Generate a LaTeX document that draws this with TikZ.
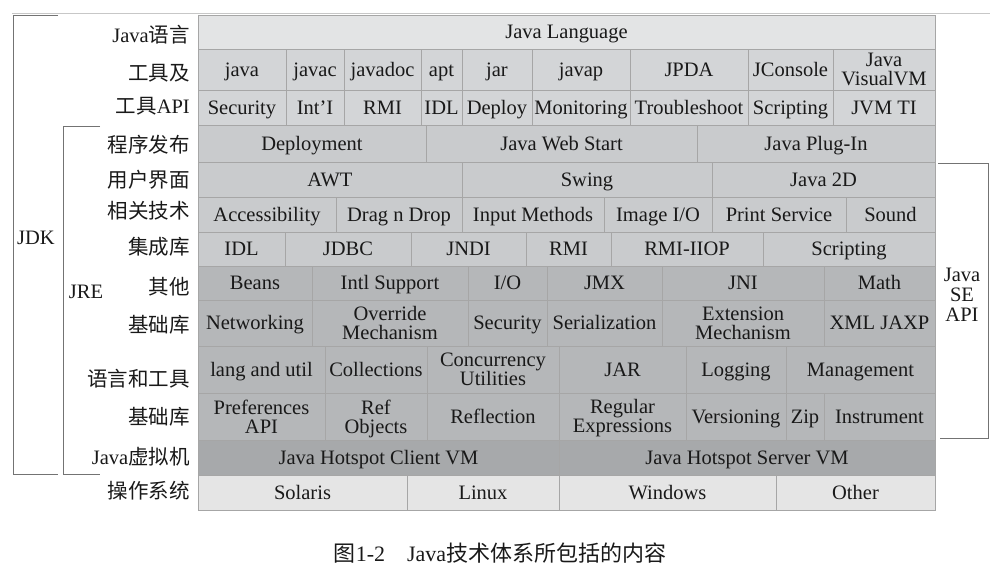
\documentclass[tikz,border=0pt]{standalone}
\usepackage{fontspec}
\setmainfont{Liberation Serif}
\newfontfamily\cjk{Noto Sans CJK SC}
\definecolor{cLang}{HTML}{E3E4E5}
\definecolor{cTool}{HTML}{D3D5D7}
\definecolor{cJre}{HTML}{C9CBCD}
\definecolor{cBase}{HTML}{B5B7B9}
\definecolor{cVm}{HTML}{A7A9AB}
\definecolor{cOs}{HTML}{E5E5E5}
\newcommand{\capstrut}{\rule[-0.4pt]{0pt}{14.4pt}}
\tikzset{
  cell/.style={draw=black!35,line width=0.7pt,anchor=north west,inner sep=0pt,outer sep=0pt,
    align=center,text=black!90,font=\fontsize{20.5}{19}\selectfont,
    execute at begin node=\capstrut,text depth=0.4pt},
  lbl/.style={anchor=east,inner sep=0pt,text=black!90,font=\fontsize{20.5}{20}\selectfont},
  side/.style={inner sep=0pt,align=center,text=black!90,font=\fontsize{20.5}{20}\selectfont},
  brk/.style={draw=black!55,line width=0.8pt},
  lang/.style={fill=cLang},
  tool/.style={fill=cTool},
  jre/.style={fill=cJre},
  base/.style={fill=cBase},
  vm/.style={fill=cVm},
  os/.style={fill=cOs}
}
% style, name, x1, x2, y1, y2, text
\newcommand{\blk}[7]{\node[cell,#1,minimum width=#4pt-#3pt,minimum height=#6pt-#5pt] (#2) at (#3,#5) {#7};}
\begin{document}
\begin{tikzpicture}[x=1pt,y=-1pt]
  \useasboundingbox (0,0) rectangle (997,575);
  \draw[draw=black!22,line width=0.6pt] (12,13) -- (990,13);
  \blk{lang}{lng}{198}{935}{15}{49}{Java Language}
  \blk{tool}{java}{198}{286}{49}{90}{java}
  \blk{tool}{javac}{286}{344}{49}{90}{javac}
  \blk{tool}{javadoc}{344}{421}{49}{90}{javadoc}
  \blk{tool}{apt}{421}{462}{49}{90}{apt}
  \blk{tool}{jar}{462}{532}{49}{90}{jar}
  \blk{tool}{javap}{532}{630}{49}{90}{javap}
  \blk{tool}{jpda}{630}{748}{49}{90}{JPDA}
  \blk{tool}{jcon}{748}{833}{49}{90}{JConsole}
  \blk{tool}{jvvm}{833}{935}{49}{90}{Java\\VisualVM}
  \blk{tool}{tsec}{198}{286}{90}{125}{Security}
  \blk{tool}{tint}{286}{344}{90}{125}{Int’I}
  \blk{tool}{trmi}{344}{421}{90}{125}{RMI}
  \blk{tool}{tidl}{421}{462}{90}{125}{IDL}
  \blk{tool}{tdep}{462}{532}{90}{125}{Deploy}
  \blk{tool}{tmon}{532}{630}{90}{125}{Monitoring}
  \blk{tool}{ttro}{630}{748}{90}{125}{Troubleshoot}
  \blk{tool}{tscr}{748}{833}{90}{125}{Scripting}
  \blk{tool}{tjvmti}{833}{935}{90}{125}{JVM TI}
  \blk{jre}{deploy}{198}{426}{125}{162}{Deployment}
  \blk{jre}{jws}{426}{697}{125}{162}{Java Web Start}
  \blk{jre}{plugin}{697}{935}{125}{162}{Java Plug-In}
  \blk{jre}{awt}{198}{462}{162}{197}{AWT}
  \blk{jre}{swing}{462}{712}{162}{197}{Swing}
  \blk{jre}{j2d}{712}{935}{162}{197}{Java 2D}
  \blk{jre}{acc}{198}{336}{197}{232}{Accessibility}
  \blk{jre}{dnd}{336}{462}{197}{232}{Drag n Drop}
  \blk{jre}{inm}{462}{604}{197}{232}{Input Methods}
  \blk{jre}{imgio}{604}{712}{197}{232}{Image I/O}
  \blk{jre}{print}{712}{846}{197}{232}{Print Service}
  \blk{jre}{sound}{846}{935}{197}{232}{Sound}
  \blk{jre}{idl}{198}{285}{232}{266}{IDL}
  \blk{jre}{jdbc}{285}{411}{232}{266}{JDBC}
  \blk{jre}{jndi}{411}{526}{232}{266}{JNDI}
  \blk{jre}{rmi}{526}{611}{232}{266}{RMI}
  \blk{jre}{iiop}{611}{763}{232}{266}{RMI-IIOP}
  \blk{jre}{scr}{763}{935}{232}{266}{Scripting}
  \blk{base}{beans}{198}{312}{266}{300}{Beans}
  \blk{base}{intl}{312}{468}{266}{300}{Intl Support}
  \blk{base}{io}{468}{547}{266}{300}{I/O}
  \blk{base}{jmx}{547}{662}{266}{300}{JMX}
  \blk{base}{jni}{662}{824}{266}{300}{JNI}
  \blk{base}{math}{824}{935}{266}{300}{Math}
  \blk{base}{net}{198}{312}{300}{346}{Networking}
  \blk{base}{ovr}{312}{468}{300}{346}{Override\\Mechanism}
  \blk{base}{sec}{468}{547}{300}{346}{Security}
  \blk{base}{ser}{547}{662}{300}{346}{Serialization}
  \blk{base}{ext}{662}{824}{300}{346}{Extension\\Mechanism}
  \blk{base}{xml}{824}{935}{300}{346}{XML JAXP}
  \blk{base}{util}{198}{325}{346}{393}{lang and util}
  \blk{base}{coll}{325}{427}{346}{393}{Collections}
  \blk{base}{conc}{427}{559}{346}{393}{Concurrency\\Utilities}
  \blk{base}{jarb}{559}{686}{346}{393}{JAR}
  \blk{base}{log}{686}{786}{346}{393}{Logging}
  \blk{base}{mgmt}{786}{935}{346}{393}{Management}
  \blk{base}{pref}{198}{325}{393}{440}{Preferences\\API}
  \blk{base}{ref}{325}{427}{393}{440}{Ref\\Objects}
  \blk{base}{refl}{427}{559}{393}{440}{Reflection}
  \blk{base}{regex}{559}{686}{393}{440}{Regular\\Expressions}
  \blk{base}{ver}{686}{786}{393}{440}{Versioning}
  \blk{base}{zip}{786}{824}{393}{440}{Zip}
  \blk{base}{instr}{824}{935}{393}{440}{Instrument}
  \blk{vm}{client}{198}{559}{440}{475}{Java Hotspot Client VM}
  \blk{vm}{server}{559}{935}{440}{475}{Java Hotspot Server VM}
  \blk{os}{solaris}{198}{407}{475}{510}{Solaris}
  \blk{os}{linux}{407}{559}{475}{510}{Linux}
  \blk{os}{windows}{559}{776}{475}{510}{Windows}
  \blk{os}{other}{776}{935}{475}{510}{Other}
  \node[lbl] (l1) at (190,35) {Java{\cjk 语言}};
  \node[lbl] (l2) at (190,73) {\cjk 工具及};
  \node[lbl] (l3) at (190,106) {{\cjk 工具}API};
  \node[lbl] (l4) at (190,145) {\cjk 程序发布};
  \node[lbl] (l5) at (190,180) {\cjk 用户界面};
  \node[lbl] (l6) at (190,211) {\cjk 相关技术};
  \node[lbl] (l7) at (190,247) {\cjk 集成库};
  \node[lbl] (l8) at (190,287) {\cjk 其他};
  \node[lbl] (l9) at (190,325) {\cjk 基础库};
  \node[lbl] (l10) at (190,379) {\cjk 语言和工具};
  \node[lbl] (l11) at (190,417) {\cjk 基础库};
  \node[lbl] (l12) at (190,457) {Java{\cjk 虚拟机}};
  \node[lbl] (l13) at (190,491) {\cjk 操作系统};
  \draw[brk] (58,15) -- (13,15) -- (13,474) -- (58,474);
  \draw[brk] (100,126) -- (63,126) -- (63,474) -- (100,474);
  \draw[brk] (938,163) -- (988,163) -- (988,438) -- (940,438);
  \node[side] (jdk) at (36,238) {JDK};
  \node[side] (jre) at (86,292) {JRE};
  \node[side] (seapi) at (962,295) {Java\\SE\\API};
  \node[side,font=\fontsize{22}{22}\selectfont] (cap) at (500,553) {{\cjk 图}1-2\hspace{1em}Java{\cjk 技术体系所包括的内容}};
\end{tikzpicture}
\end{document}
